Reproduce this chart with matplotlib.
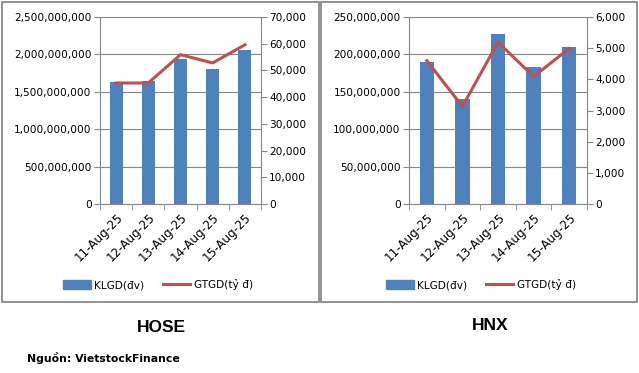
import numpy as np
import matplotlib.pyplot as plt
from matplotlib.patches import Rectangle, Patch
from matplotlib.lines import Line2D
from matplotlib.ticker import FuncFormatter

dates = ["11-Aug-25", "12-Aug-25", "13-Aug-25", "14-Aug-25", "15-Aug-25"]
hose_klgd = [1625e6, 1638e6, 1940e6, 1810e6, 2065e6]
hose_gtgd = [45300, 45300, 55900, 52800, 59600]
hnx_klgd = [190.5e6, 140.8e6, 227.8e6, 183.6e6, 210.4e6]
hnx_gtgd = [4600, 3130, 5190, 4090, 4990]

W, H = 639, 373
BAR, LINE, GRID = "#4F81BD", "#C0504D", "#868686"
fs = 7.6

fig = plt.figure(figsize=(W/100, H/100), dpi=100)
fig.patch.set_facecolor("white")

# panel borders
for x0, x1 in [(2, 319), (321, 637)]:
    fig.patches.append(Rectangle((x0/W, 1-302/H), (x1-x0)/W, 300/H,
                                 transform=fig.transFigure, fill=False,
                                 edgecolor="#7f7f7f", lw=1.2))

comma = FuncFormatter(lambda v, p: f"{v:,.0f}")

def panel(left, right, klgd, gtgd, ymax, ystep, y2max, y2step):
    ax = fig.add_axes([left/W, 1-204/H, (right-left)/W, 187/H])
    x = np.arange(len(dates))
    ax.bar(x, klgd, width=0.4, color=BAR, zorder=3)
    ax.set_xlim(-0.5, len(dates)-0.5)
    ax.set_ylim(0, ymax)
    ax.set_yticks(np.arange(0, ymax+1, ystep))
    ax.yaxis.set_major_formatter(comma)
    ax.grid(axis="y", color=GRID, lw=0.8, zorder=0)
    ax.set_xticks(x)
    ax.set_xticklabels(dates, rotation=45, ha="right", rotation_mode="anchor", fontsize=8.6)
    ax.set_xticks(np.arange(-0.5, len(dates)), minor=True)
    ax.tick_params(axis="x", which="major", length=0, pad=5)
    ax.tick_params(axis="x", which="minor", length=4, color=GRID)
    ax.tick_params(axis="y", length=4, color=GRID, labelsize=fs, pad=2)
    for s in ["top", "right"]:
        ax.spines[s].set_visible(False)
    for s in ["left", "bottom"]:
        ax.spines[s].set_color(GRID)
    ax2 = ax.twinx()
    ax2.plot(x, gtgd, color=LINE, lw=2.2, zorder=4)
    ax2.set_ylim(0, y2max)
    ax2.set_yticks(np.arange(0, y2max+1, y2step))
    ax2.yaxis.set_major_formatter(comma)
    ax2.tick_params(axis="y", length=4, color=GRID, labelsize=fs, pad=2)
    for s in ["top", "left", "bottom"]:
        ax2.spines[s].set_visible(False)
    ax2.spines["right"].set_color(GRID)
    return ax

panel(100, 261, hose_klgd, hose_gtgd, 2.5e9, 5e8, 70000, 10000)
panel(409, 587, hnx_klgd, hnx_gtgd, 2.5e8, 5e7, 6000, 1000)

handles = [Patch(color=BAR), Line2D([], [], color=LINE, lw=2.2)]
labels = ["KLGD(đv)", "GTGD(tỷ đ)"]
for cx in [158, 481]:
    fig.legend(handles, labels, loc="center", bbox_to_anchor=(cx/W, 1-285/H),
               ncol=2, frameon=False, fontsize=fs, handlelength=2.6,
               handleheight=0.9, columnspacing=1.8, handletextpad=0.3)

tfont = ["Liberation Sans", "DejaVu Sans"]
fig.text(161/W, 1-328/H, "HOSE", ha="center", va="center", fontsize=12.5,
         fontweight="bold", family=tfont)
fig.text(490/W, 1-326/H, "HNX", ha="center", va="center", fontsize=12.5,
         fontweight="bold", family=tfont)
fig.text(27/W, 1-358/H, "Nguồn: VietstockFinance", ha="left", va="center",
         fontsize=7.8, fontweight="bold")

fig.savefig("out.png", dpi=100)
